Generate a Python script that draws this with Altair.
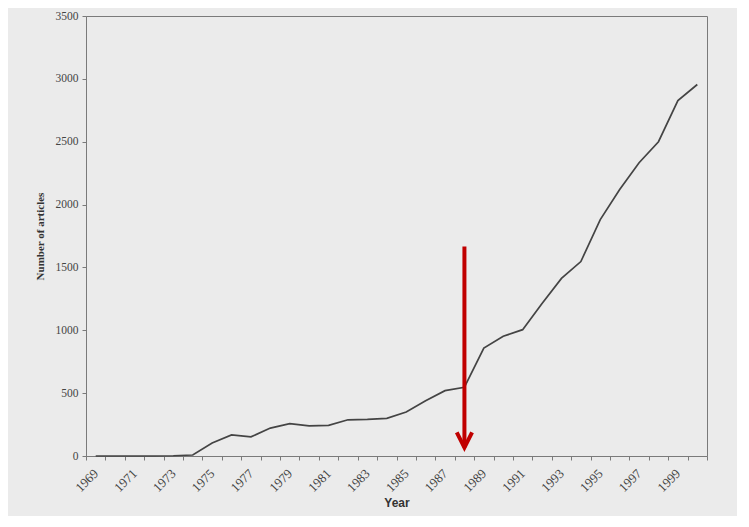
import altair as alt
import pandas as pd

years = list(range(1969, 2001))
articles = [0, 0, 0, 0, 2, 8, 104, 168, 152, 222, 258, 240, 244, 288, 292, 300,
            350, 440, 520, 547, 859, 952, 1005, 1213, 1413, 1547, 1880, 2120,
            2333, 2500, 2827, 2955]

arrow_year = [1988]
arrow_top = [1667]
arrow_tip = [67]

df = pd.DataFrame({"year": years, "articles": articles})
arrow_df = pd.DataFrame({"year": arrow_year, "top": arrow_top, "tip": arrow_tip})

xscale = alt.Scale(type="band", paddingInner=0, paddingOuter=0)
yscale = alt.Scale(domain=[0, 3500], nice=False)

xaxis = alt.Axis(
    tickBand="extent",
    labelExpr="datum.value % 2 == 1 ? datum.label : ''",
    labelAngle=315,
    labelAlign="right",
    labelBaseline="middle",
    labelPadding=11,
    tickSize=4,
    domainColor="#7a7a7a",
    tickColor="#7a7a7a",
    labelFont="Liberation Serif",
    labelFontSize=13,
    labelColor="#444444",
    title="Year",
    titleFont="Liberation Sans",
    titleFontWeight="bold",
    titleFontSize=12,
    titleColor="#333333",
    titlePadding=3,
    grid=False,
)

yaxis = alt.Axis(
    values=[0, 500, 1000, 1500, 2000, 2500, 3000, 3500],
    format="d",
    tickSize=4,
    labelPadding=4,
    domainColor="#7a7a7a",
    tickColor="#7a7a7a",
    labelFont="Liberation Serif",
    labelFontSize=11.5,
    labelColor="#444444",
    title="Number of articles",
    titleFont="Liberation Serif",
    titleFontWeight="bold",
    titleFontSize=11,
    titleColor="#333333",
    titlePadding=10,
    grid=False,
)

line = alt.Chart(df).mark_line(color="#444444", strokeWidth=1.7).encode(
    x=alt.X("year:O", scale=xscale, axis=xaxis),
    y=alt.Y("articles:Q", scale=yscale, axis=yaxis),
)

shaft = alt.Chart(arrow_df).mark_rule(color="#c00000", strokeWidth=4).encode(
    x=alt.X("year:O", scale=xscale),
    y=alt.Y("top:Q", scale=yscale),
    y2=alt.Y2("tip:Q"),
)

head = alt.Chart(arrow_df).mark_point(
    shape="M-0.45,-0.9L0,0L0.45,-0.9",
    size=1156,
    filled=False,
    stroke="#c00000",
    strokeWidth=4,
    opacity=1,
    strokeJoin="miter",
).encode(
    x=alt.X("year:O", scale=xscale),
    y=alt.Y("tip:Q", scale=yscale),
)

chart = (
    alt.layer(line, shaft, head)
    .properties(
        width=621,
        height=440,
        background="#ebebeb",
        autosize=alt.AutoSizeParams(type="none"),
        padding={"left": 78, "top": 8, "right": 30, "bottom": 60},
    )
    .configure_view(stroke="#7a7a7a", strokeWidth=1)
)

chart.save("out.html", embed_options={"renderer": "svg", "actions": False})
